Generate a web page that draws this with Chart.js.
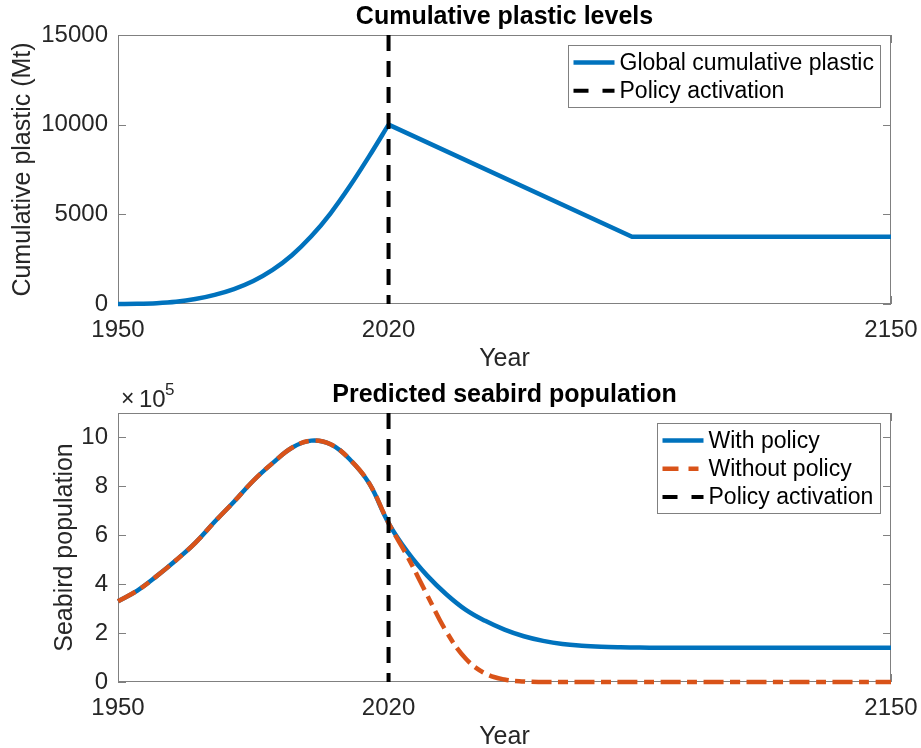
<!DOCTYPE html>
<html><head><meta charset="utf-8">
<script src="https://cdn.jsdelivr.net/npm/chart.js@4"></script>
<style>
html,body{margin:0;padding:0;width:921px;height:748px;overflow:hidden;background:#fff}
#c1{position:absolute;left:0;top:0}
#c2{position:absolute;left:0;top:378px}
</style></head><body>
<canvas id="c1" width="921" height="378"></canvas>
<canvas id="c2" width="921" height="378"></canvas>
<script>
// ---------- data ----------
const X_RANGE = [1950, 2150];
const X_TICKS = [1950, 2020, 2150];
const POLICY_YEAR = 2020;

// Top panel: cumulative plastic (Mt)
const PLASTIC_Y_RANGE = [0, 15000];
const PLASTIC_Y_TICKS = [0, 5000, 10000, 15000];
const PLASTIC_GROWTH_YEARS = [1950,1955,1960,1965,1970,1975,1980,1985,1990,1995,2000,2005,2010,2015,2020];
const PLASTIC_GROWTH = [0,10,44,122,274,511,834,1283,1900,2720,3775,5060,6575,8245,10000];
const PLASTIC_POLICY_YEARS = [2020, 2083, 2150];
const PLASTIC_POLICY = [10000, 3750, 3750];

// Bottom panel: seabird population
const BIRD_Y_RANGE = [0, 1100000];
const BIRD_Y_TICKS = [0, 200000, 400000, 600000, 800000, 1000000];
const BIRD_YEARS = [1950,1955,1960,1965,1970,1975,1980,1985,1990,1995,2000,2005,2010,2015,2020,
  2025,2030,2035,2040,2045,2050,2055,2060,2065,2070,2075,2080,2085,2090,2095,2100,
  2105,2110,2115,2120,2125,2130,2135,2140,2145,2150];
const WITH_POLICY = [330000,374000,433000,498000,569000,655000,737000,823000,895000,958000,987000,972000,910000,812000,650000,
  530000,435000,358000,295000,250000,214000,187000,168000,155000,148000,144000,142000,141000,140000,140000,140000,
  140000,140000,140000,140000,140000,140000,140000,140000,140000,140000];
const WITHOUT_POLICY = [330000,374000,433000,498000,569000,655000,737000,823000,895000,958000,987000,972000,910000,812000,650000,
  510000,355000,205000,95000,35000,10000,2000,0,0,0,0,0,0,0,0,0,
  0,0,0,0,0,0,0,0,0,0];

// ---------- styling ----------
const FONT = "'Liberation Sans', Arial, Helvetica, sans-serif";
const BLUE = '#0072BD', ORANGE = '#D95319', AXIS = '#808080', TXT = '#262626';

const pts = (xs, ys) => xs.map((x, i) => ({x, y: ys[i]}));

const matlabAxes = {
  id: 'matlabAxes',
  beforeDatasetsDraw(chart) {
    const {ctx, chartArea: a} = chart;
    const L = Math.round(a.left), R = Math.round(a.right), T = Math.round(a.top), B = Math.round(a.bottom);
    ctx.save();
    ctx.strokeStyle = AXIS; ctx.lineWidth = 1;
    ctx.strokeRect(L + 0.5, T + 0.5, R - L - 1, B - T - 1);
    ctx.beginPath();
    chart.scales.y.ticks.forEach(t => {
      const py = Math.round(chart.scales.y.getPixelForValue(t.value)) + 0.5;
      ctx.moveTo(L, py); ctx.lineTo(L + 8, py);
      ctx.moveTo(R - 8, py); ctx.lineTo(R, py);
    });
    chart.scales.x.ticks.forEach(t => {
      const px = Math.round(chart.scales.x.getPixelForValue(t.value)) + 0.5;
      ctx.moveTo(px, B); ctx.lineTo(px, B - 8);
      ctx.moveTo(px, T); ctx.lineTo(px, T + 8);
    });
    ctx.stroke();
    ctx.restore();
  },
  afterDraw(chart, args, opts) {
    const {ctx, chartArea: a} = chart;
    ctx.save();
    if (opts.exponent) {
      ctx.fillStyle = TXT;
      ctx.textBaseline = 'alphabetic';
      ctx.textAlign = 'left';
      ctx.font = `23px ${FONT}`;
      ctx.fillText('×', a.left + 3, a.top - 7);
      ctx.font = `24px ${FONT}`;
      ctx.fillText('10', a.left + 21, a.top - 6);
      ctx.font = `17px ${FONT}`;
      ctx.fillText(opts.exponent, a.left + 47, a.top - 18);
    }
    const items = opts.items || [];
    if (items.length) {
      ctx.font = `23px ${FONT}`;
      const tw = Math.max(...items.map(i => ctx.measureText(i.text).width));
      const right = Math.round(a.right) - 10.5;
      const w = Math.round(5 + 41 + 5 + tw + 7);
      const left = right - w;
      const top = Math.round(a.top) + 10.5;
      const h = Math.round(17 + 28.3 * (items.length - 1) + 16.5);
      ctx.fillStyle = '#fff';
      ctx.fillRect(left, top, w, h);
      ctx.strokeStyle = AXIS; ctx.lineWidth = 1;
      ctx.strokeRect(left, top, w, h);
      items.forEach((it, i) => {
        const y = top + 17 + i * 28.3;
        const x0 = left + 5;
        ctx.strokeStyle = it.color; ctx.lineWidth = it.width; ctx.lineCap = 'butt';
        ctx.beginPath();
        it.segs.forEach(([s, e]) => { ctx.moveTo(x0 + s, y); ctx.lineTo(x0 + e, y); });
        ctx.stroke();
        ctx.fillStyle = '#000';
        ctx.textAlign = 'left'; ctx.textBaseline = 'middle';
        ctx.fillText(it.text, x0 + 46, y + 1);
      });
    }
    ctx.restore();
  }
};

function makeChart(id, cfg) {
  return new Chart(document.getElementById(id), {
    type: 'line',
    data: {datasets: cfg.datasets},
    plugins: [matlabAxes],
    options: {
      responsive: false,
      animation: false,
      events: [],
      layout: {padding: {left: 0, right: 30, top: 0, bottom: 0}},
      elements: {point: {radius: 0}},
      plugins: {
        legend: {display: false},
        tooltip: {enabled: false},
        title: {
          display: true, text: cfg.title, fullSize: false,
          color: '#000',
          font: {family: FONT, size: 25, weight: 'bold', lineHeight: 1.2},
          padding: {top: 2.5, bottom: 2.5}
        },
        matlabAxes: {items: cfg.legend, exponent: cfg.exponent}
      },
      scales: {
        x: {
          type: 'linear', min: X_RANGE[0], max: X_RANGE[1],
          afterBuildTicks: s => { s.ticks = X_TICKS.map(v => ({value: v})); },
          afterFit: s => { s.height = 74; s.paddingRight = 0; s.paddingLeft = 0; },
          grid: {display: false, drawTicks: false},
          border: {display: false},
          ticks: {color: TXT, padding: 11.5, maxRotation: 0, autoSkip: false,
                  font: {family: FONT, size: 24}, callback: v => String(v)},
          title: {display: true, text: 'Year', color: TXT,
                  font: {family: FONT, size: 25, lineHeight: 1.2},
                  padding: {top: 0, bottom: cfg.xTitlePad}}
        },
        y: {
          type: 'linear', min: cfg.yRange[0], max: cfg.yRange[1],
          afterBuildTicks: s => { s.ticks = cfg.yTicks.map(v => ({value: v})); },
          afterFit: s => { s.width = 118; },
          grid: {display: false, drawTicks: false},
          border: {display: false},
          ticks: {color: TXT, padding: 10, font: {family: FONT, size: 24},
                  callback: cfg.yFmt},
          title: {display: true, text: cfg.yTitle, color: TXT,
                  font: {family: FONT, size: 25, lineHeight: 1.2},
                  padding: {top: cfg.yTitlePad, bottom: 0}}
        }
      }
    }
  });
}

const policyLine = (yr) => ({
  label: 'Policy activation',
  data: [{x: POLICY_YEAR, y: yr[1]}, {x: POLICY_YEAR, y: yr[0]}],
  borderColor: '#000', borderWidth: 4, borderDash: [16, 10], order: 0, clip: 0
});

makeChart('c1', {
  title: 'Cumulative plastic levels',
  yTitle: 'Cumulative plastic (Mt)',
  yRange: PLASTIC_Y_RANGE, yTicks: PLASTIC_Y_TICKS,
  yFmt: v => String(v), yTitlePad: 8, xTitlePad: 4,
  datasets: [
    policyLine(PLASTIC_Y_RANGE),
    {label: 'Global cumulative plastic', data: pts(PLASTIC_GROWTH_YEARS, PLASTIC_GROWTH),
     borderColor: BLUE, borderWidth: 4.5, cubicInterpolationMode: 'monotone', order: 1, clip: 4},
    {label: 'Global cumulative plastic (policy)', data: pts(PLASTIC_POLICY_YEARS, PLASTIC_POLICY),
     borderColor: BLUE, borderWidth: 4.5, tension: 0, order: 1, clip: 4}
  ],
  legend: [
    {text: 'Global cumulative plastic', color: BLUE, width: 4.5, segs: [[0, 41]]},
    {text: 'Policy activation', color: '#000', width: 4, segs: [[0, 15], [29, 41]]}
  ]
});

makeChart('c2', {
  title: 'Predicted seabird population',
  yTitle: 'Seabird population',
  yRange: BIRD_Y_RANGE, yTicks: BIRD_Y_TICKS,
  yFmt: v => String(v / 1e5), yTitlePad: 50, xTitlePad: 3.5,
  exponent: '5',
  datasets: [
    policyLine(BIRD_Y_RANGE),
    {label: 'Without policy', data: pts(BIRD_YEARS, WITHOUT_POLICY),
     borderColor: ORANGE, borderWidth: 4.5, borderDash: [20, 6.5, 10, 6.5],
     tension: 0.4, order: 1, clip: 4},
    {label: 'With policy', data: pts(BIRD_YEARS, WITH_POLICY),
     borderColor: BLUE, borderWidth: 4.5, tension: 0.4, order: 2, clip: 4}
  ],
  legend: [
    {text: 'With policy', color: BLUE, width: 4.5, segs: [[0, 41]]},
    {text: 'Without policy', color: ORANGE, width: 4.5, segs: [[0, 16], [26, 36]]},
    {text: 'Policy activation', color: '#000', width: 4, segs: [[0, 15], [29, 41]]}
  ]
});
</script>
</body></html>
